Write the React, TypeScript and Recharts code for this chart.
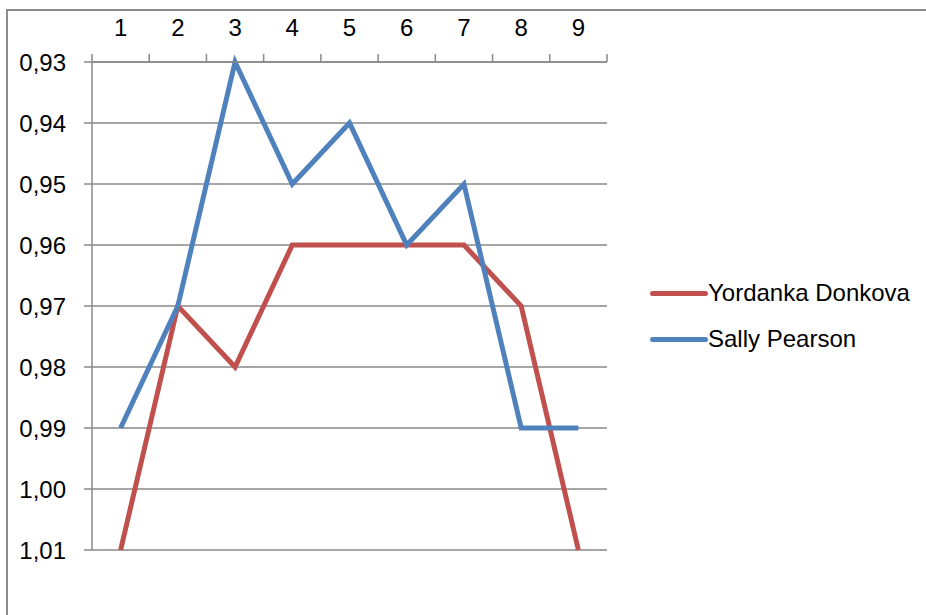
import { LineChart, Line, XAxis, YAxis, CartesianGrid } from 'recharts';

const ATTEMPTS = [1, 2, 3, 4, 5, 6, 7, 8, 9];
const DONKOVA = [1.01, 0.97, 0.98, 0.96, 0.96, 0.96, 0.96, 0.97, 1.01];
const PEARSON = [0.99, 0.97, 0.93, 0.95, 0.94, 0.96, 0.95, 0.99, 0.99];
const X_TICKS = [0.5, 1, 1.5, 2, 2.5, 3, 3.5, 4, 4.5, 5, 5.5, 6, 6.5, 7, 7.5, 8, 8.5, 9, 9.5];
const Y_TICKS = [0.93, 0.94, 0.95, 0.96, 0.97, 0.98, 0.99, 1.0, 1.01];

const SERIES = [
  { key: 'donkova', name: 'Yordanka Donkova', color: '#C0504D' },
  { key: 'pearson', name: 'Sally Pearson', color: '#4F81BD' },
];

const GRID = '#898989';
const FONT = '"Liberation Sans", Arial, sans-serif';

const data = ATTEMPTS.map((x, i) => ({ x, donkova: DONKOVA[i], pearson: PEARSON[i] }));

// labels sit in the middle of each band, tick marks on the band edges
const TopTick = (props: any) => {
  const { x, y, payload } = props;
  if (Number.isInteger(payload.value)) {
    return (
      <text x={x} y={y - 26} textAnchor="middle" fontSize={24} fontFamily={FONT} fill="#000">
        {payload.value}
      </text>
    );
  }
  return <line x1={x} x2={x} y1={y} y2={y - 8} stroke={GRID} strokeWidth={1.5} />;
};

export default function App() {
  return (
    <div style={{ position: 'fixed', left: 0, top: 0, width: 926, height: 615, overflow: 'hidden', background: '#fff' }}>
      <div
        style={{
          position: 'absolute',
          left: 6,
          top: 9,
          width: 1200,
          height: 1200,
          border: '2px solid #8c8c8c',
        }}
      />
      <div style={{ position: 'absolute', left: 0, top: 0 }}>
        <LineChart width={926} height={615} data={data} margin={{ top: 0, right: 319, bottom: 65, left: 0 }}>
          <CartesianGrid vertical={false} stroke={GRID} strokeWidth={1.5} />
          <XAxis
            dataKey="x"
            type="number"
            orientation="top"
            domain={[0.5, 9.5]}
            ticks={X_TICKS}
            interval={0}
            height={62}
            tickSize={0}
            tickMargin={0}
            tickLine={false}
            tick={<TopTick />}
            axisLine={{ stroke: GRID, strokeWidth: 1.5 }}
          />
          <YAxis
            reversed
            type="number"
            domain={[0.93, 1.01]}
            ticks={Y_TICKS}
            interval={0}
            width={92}
            tickSize={8}
            tickMargin={18}
            tickFormatter={(v: number) => v.toFixed(2).replace('.', ',')}
            tick={{ fontSize: 24, fontFamily: FONT, fill: '#000' }}
            tickLine={{ stroke: GRID, strokeWidth: 1.5 }}
            axisLine={{ stroke: GRID, strokeWidth: 1.5 }}
          />
          {SERIES.map((s) => (
            <Line
              key={s.key}
              dataKey={s.key}
              name={s.name}
              stroke={s.color}
              strokeWidth={5}
              dot={false}
              type="linear"
              isAnimationActive={false}
            />
          ))}
        </LineChart>
      </div>
      <div style={{ position: 'absolute', left: 650, top: 270 }}>
        {SERIES.map((s) => (
          <div key={s.key} style={{ display: 'flex', alignItems: 'center', height: 46 }}>
            <div style={{ width: 58, height: 5, borderRadius: 3, background: s.color }} />
            <span style={{ fontFamily: FONT, fontSize: 24, color: '#000' }}>{s.name}</span>
          </div>
        ))}
      </div>
    </div>
  );
}
